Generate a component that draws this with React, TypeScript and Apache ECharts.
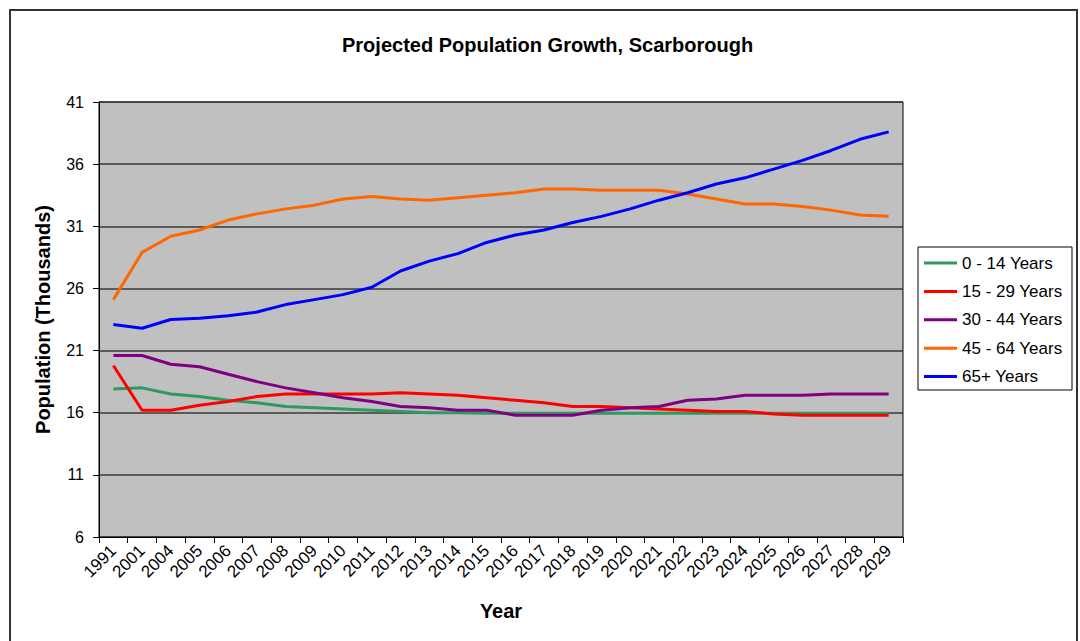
import React, { useEffect, useRef } from "react";
import * as echarts from "echarts";

const years = ["1991", "2001", "2004", "2005", "2006", "2007", "2008", "2009", "2010", "2011", "2012", "2013", "2014", "2015", "2016", "2017", "2018", "2019", "2020", "2021", "2022", "2023", "2024", "2025", "2026", "2027", "2028", "2029"];

const age0to14 = [17.9, 18.0, 17.5, 17.3, 17.0, 16.8, 16.5, 16.4, 16.3, 16.2, 16.1, 16.0, 16.0, 15.95, 15.95, 15.95, 15.95, 15.95, 15.95, 15.95, 15.95, 15.95, 15.95, 15.95, 15.95, 15.95, 15.95, 15.95];
const age15to29 = [19.8, 16.2, 16.2, 16.6, 16.9, 17.3, 17.5, 17.5, 17.5, 17.5, 17.6, 17.5, 17.4, 17.2, 17.0, 16.8, 16.5, 16.5, 16.4, 16.3, 16.2, 16.1, 16.1, 15.9, 15.8, 15.8, 15.8, 15.8];
const age30to44 = [20.6, 20.6, 19.9, 19.7, 19.1, 18.5, 18.0, 17.6, 17.2, 16.9, 16.5, 16.4, 16.2, 16.2, 15.8, 15.8, 15.8, 16.2, 16.4, 16.5, 17.0, 17.1, 17.4, 17.4, 17.4, 17.5, 17.5, 17.5];
const age45to64 = [25.1, 28.9, 30.2, 30.7, 31.5, 32.0, 32.4, 32.7, 33.2, 33.4, 33.2, 33.1, 33.3, 33.5, 33.7, 34.0, 34.0, 33.9, 33.9, 33.9, 33.6, 33.2, 32.8, 32.8, 32.6, 32.3, 31.9, 31.8];
const age65plus = [23.1, 22.8, 23.5, 23.6, 23.8, 24.1, 24.7, 25.1, 25.5, 26.1, 27.4, 28.2, 28.8, 29.7, 30.3, 30.7, 31.3, 31.8, 32.4, 33.1, 33.7, 34.4, 34.9, 35.6, 36.3, 37.1, 38.0, 38.6];

const yTicks = [6, 11, 16, 21, 26, 31, 36, 41];

const seriesNames = ["0 - 14 Years", "15 - 29 Years", "30 - 44 Years", "45 - 64 Years", "65+ Years"];
const seriesColors = ["#2E9960", "#FF0000", "#800080", "#FF6600", "#0000FF"];
const seriesData = [age0to14, age15to29, age30to44, age45to64, age65plus];

const FONT = "'Liberation Sans', Arial, sans-serif";

export default function App() {
  const ref = useRef<HTMLDivElement>(null);

  useEffect(() => {
    if (!ref.current) return;
    const chart = echarts.init(ref.current, null, { renderer: "svg" });
    chart.setOption({
      animation: false,
      backgroundColor: "#ffffff",
      textStyle: { fontFamily: FONT },
      title: {
        text: "Projected Population Growth, Scarborough",
        left: 337,
        top: 30,
        textStyle: { fontFamily: FONT, fontSize: 20, fontWeight: "bold", color: "#000" },
      },
      legend: {
        orient: "vertical",
        left: 924,
        top: 254,
        icon: "rect",
        itemWidth: 33,
        itemHeight: 3,
        itemGap: 10.4,
        padding: 0,
        textStyle: { fontFamily: FONT, fontSize: 17, color: "#000", lineHeight: 18 },
        data: seriesNames,
      },
      graphic: [
        {
          type: "rect",
          shape: { x: 10, y: 10, width: 1067, height: 700 },
          style: { fill: "none", stroke: "#333", lineWidth: 2 },
          silent: true,
        },
        {
          type: "rect",
          shape: { x: 918, y: 247, width: 154, height: 143 },
          style: { fill: "none", stroke: "#000", lineWidth: 1 },
          silent: true,
        },
      ],
      grid: {
        left: 99,
        top: 102,
        width: 804,
        height: 435,
        show: true,
        backgroundColor: "#C0C0C0",
        borderColor: "#000",
        borderWidth: 1,
      },
      xAxis: {
        type: "category",
        data: years,
        boundaryGap: true,
        name: "Year",
        nameLocation: "middle",
        nameGap: 64,
        nameTextStyle: { fontFamily: FONT, fontSize: 20, fontWeight: "bold", color: "#000" },
        axisLine: { show: true, lineStyle: { color: "#000", width: 1 } },
        axisTick: { show: true, length: 6, lineStyle: { color: "#000" } },
        axisLabel: { interval: 0, rotate: 45, fontSize: 17, color: "#000", margin: 11, fontFamily: FONT },
        splitLine: { show: false },
      },
      yAxis: {
        type: "value",
        min: 6,
        max: 41,
        name: "Population (Thousands)",
        nameLocation: "middle",
        nameGap: 46,
        nameTextStyle: { fontFamily: FONT, fontSize: 20, fontWeight: "bold", color: "#000" },
        axisLine: { show: true, lineStyle: { color: "#000", width: 1 } },
        axisTick: { show: true, length: 6, lineStyle: { color: "#000" }, customValues: yTicks },
        axisLabel: { fontSize: 16, color: "#000", margin: 15, fontFamily: FONT, customValues: yTicks },
        splitLine: { show: true, lineStyle: { color: "#3a3a3a", width: 1.5 } },
      },
      series: seriesNames.map((name, i) => ({
        name,
        type: "line",
        data: seriesData[i],
        symbol: "none",
        color: seriesColors[i],
        lineStyle: { width: 3, color: seriesColors[i] },
      })),
    });
    return () => chart.dispose();
  }, []);

  return (
    <div
      ref={ref}
      style={{ position: "fixed", left: 0, top: 0, width: 1080, height: 641 }}
    />
  );
}
